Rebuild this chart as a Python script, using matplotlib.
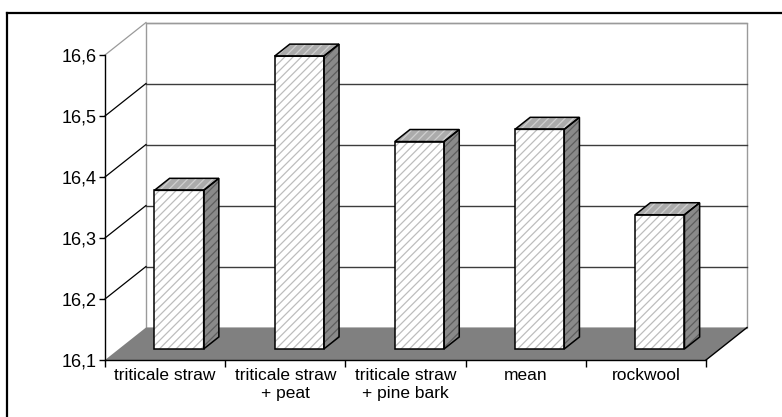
import matplotlib
matplotlib.use("Agg")
import matplotlib.pyplot as plt
from matplotlib.patches import Polygon
from matplotlib.lines import Line2D

# Data
categories = ["triticale straw", "triticale straw\n+ peat", "triticale straw\n+ pine bark",
              "mean", "rockwool"]
values = [16.36, 16.58, 16.44, 16.46, 16.32]
y_ticks = [16.1, 16.2, 16.3, 16.4, 16.5, 16.6]
y_tick_labels = ["16,1", "16,2", "16,3", "16,4", "16,5", "16,6"]

plt.rcParams['font.family'] = ['Liberation Sans', 'DejaVu Sans']
plt.rcParams['hatch.linewidth'] = 0.9

W, H = 782, 417
fig = plt.figure(figsize=(W / 100, H / 100), dpi=100)
ax = fig.add_axes([105 / W, 57 / H, 601 / W, 305 / H])
ax.patch.set_visible(False)

n = len(categories)
ymin, ymax = y_ticks[0], y_ticks[-1]
ax.set_xlim(0, n)
ax.set_ylim(ymin, ymax)

# oblique depth vector (in data units) for the pseudo-3D look
DX = 41 / 120.2
DY = 32.5 / 610


def at(x, y, f):
    return (x + f * DX, y + f * DY)


def poly(pts, **kw):
    p = Polygon(pts, closed=True, clip_on=False, **kw)
    ax.add_patch(p)
    return p


# back wall
poly([at(0, ymin, 1), at(n, ymin, 1), at(n, ymax, 1), at(0, ymax, 1)],
     facecolor='white', edgecolor='#9a9a9a', lw=1.0, zorder=0.5)

# gridlines on the back wall and the left side wall
for v in y_ticks[1:]:
    col_back = '#9a9a9a' if v == ymax else '#3c3c3c'
    col_side = '#9a9a9a' if v == ymax else 'black'
    (bx0, by0), (bx1, by1) = at(0, v, 1), at(n, v, 1)
    ax.add_line(Line2D([bx0, bx1], [by0, by1], color=col_back, lw=1.0,
                       clip_on=False, zorder=0.6))
    ax.add_line(Line2D([0, bx0], [v, by0], color=col_side, lw=0.9,
                       clip_on=False, zorder=0.6))

# floor
poly([(0, ymin), (n, ymin), at(n, ymin, 1), at(0, ymin, 1)],
     facecolor='#808080', edgecolor='none', lw=0, zorder=0.7)
(fx, fy) = at(n, ymin, 1)
ax.add_line(Line2D([n, fx], [ymin, fy], color='black', lw=1.0,
                   clip_on=False, zorder=0.8))

# bars
half = 0.205
f0, f1 = 0.34, 0.71
for i, v in enumerate(values):
    x0, x1 = i + 0.5 - half, i + 0.5 + half
    front = [at(x0, ymin, f0), at(x1, ymin, f0), at(x1, v, f0), at(x0, v, f0)]
    side = [at(x1, ymin, f0), at(x1, ymin, f1), at(x1, v, f1), at(x1, v, f0)]
    top = [at(x0, v, f0), at(x1, v, f0), at(x1, v, f1), at(x0, v, f1)]
    for pts, fc, hc in [(front, 'white', '#bdbdbd'),
                        (side, '#8a8a8a', '#5e5e5e'),
                        (top, '#ababab', '#d0d0d0')]:
        poly(pts, facecolor=fc, edgecolor='none', lw=0, zorder=2)
        poly(pts, facecolor='none', edgecolor=hc, hatch='////', lw=0, zorder=2.1)
        poly(pts, facecolor='none', edgecolor='black', lw=1.1, zorder=2.2,
             joinstyle='miter')

# axes and ticks
for s in ('top', 'right'):
    ax.spines[s].set_visible(False)
for s in ('left', 'bottom'):
    ax.spines[s].set_color('black')
    ax.spines[s].set_linewidth(1.0)
    ax.spines[s].set_zorder(3)

ax.set_yticks(y_ticks)
ax.set_yticklabels(y_tick_labels)
ax.tick_params(axis='y', direction='out', length=4, width=1, pad=2,
               labelsize=13, colors='black')

ax.set_xticks(range(n + 1))
ax.set_xticklabels([])
ax.set_xticks([i + 0.5 for i in range(n)], minor=True)
ax.set_xticklabels(categories, minor=True)
ax.tick_params(axis='x', which='major', direction='out', length=5, width=1)
ax.tick_params(axis='x', which='minor', length=0, pad=6, labelsize=12.5)

# chart frame
fig.add_artist(Line2D([7 / W, 1], [1 - 13 / H, 1 - 13 / H], transform=fig.transFigure,
                      color='black', lw=1.6))
fig.add_artist(Line2D([7 / W, 7 / W], [0, 1 - 13 / H], transform=fig.transFigure,
                      color='black', lw=1.6))

fig.savefig('out.png', dpi=100)
